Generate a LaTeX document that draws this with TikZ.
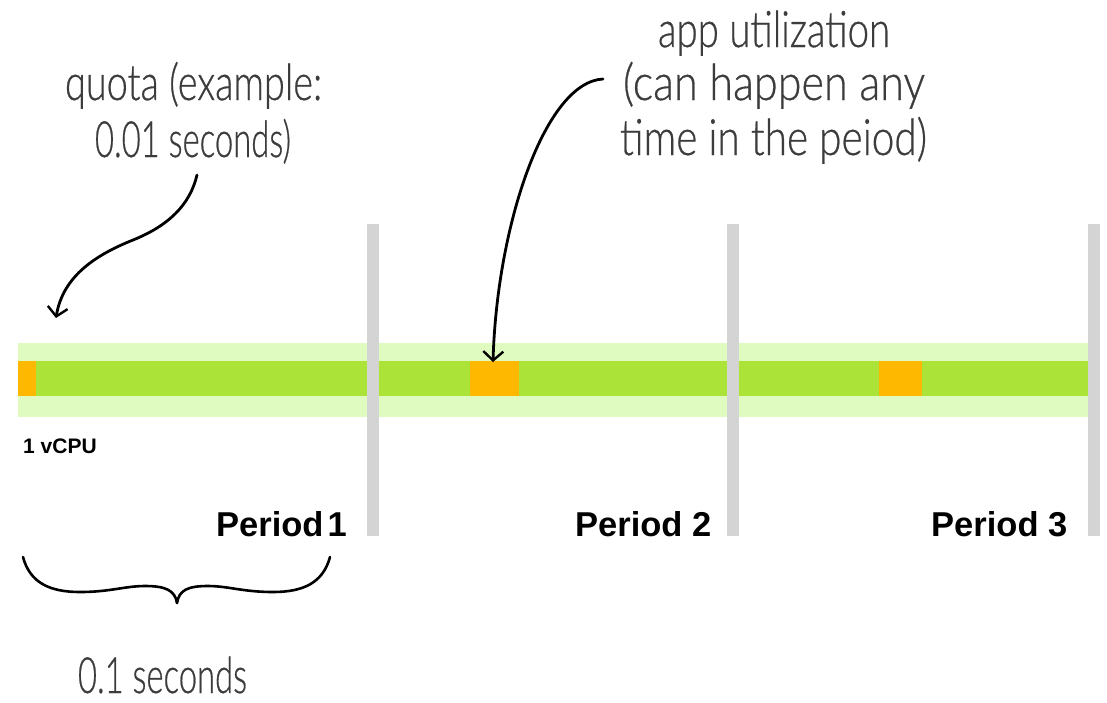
\documentclass[tikz,border=0pt]{standalone}
\usepackage{fontspec}
\usetikzlibrary{arrows.meta}
\setmainfont{Liberation Sans}
\newfontfamily\handfont[FakeBold=0.6]{Lato Light}
\definecolor{lightband}{HTML}{E0FBC0}
\definecolor{darkband}{HTML}{ABE338}
\definecolor{usage}{HTML}{FFB800}
\definecolor{divider}{HTML}{D4D4D4}
\definecolor{ink}{HTML}{3C3C3C}
\newcommand{\handtext}[2]{\resizebox{#1pt}{\height}{\fontsize{50}{54}\handfont #2}}
\tikzset{
  hand/.style={anchor=base west,inner sep=0pt,outer sep=0pt,text=ink},
  periodlabel/.style={anchor=base west,inner sep=0pt,font=\fontsize{34.5}{38}\selectfont\bfseries},
  pointer/.style={line width=2.8pt,line cap=round,-{Straight Barb[length=9pt,width=20pt,line width=2.4pt]}},
  bracepath/.style={line width=2.6pt,line cap=round,line join=round}
}
\begin{document}
\begin{tikzpicture}[x=1pt,y=-1pt]
\useasboundingbox (0,0) rectangle (1107,702);
% bands
\fill[lightband] (18,343) rectangle (1088,417);
\fill[darkband] (18,361) rectangle (1088,396);
\fill[usage] (18,361) rectangle (36,396);
\fill[usage] (470,361) rectangle (519,396);
\fill[usage] (879,361) rectangle (922,396);
\fill[divider] (367,224) rectangle (379,536);
\fill[divider] (727,224) rectangle (739,536);
\fill[divider] (1088,224) rectangle (1100,536);
% handwriting
\node[hand] (q1) at (65,100) {\handtext{257}{quota (example:}};
\node[hand] (q2) at (95,157) {\handtext{196}{0.01 seconds)}};
\node[hand] (a1) at (658,47) {\handtext{232}{app utilization}};
\node[hand] (a2) at (623,100) {\handtext{302}{(can happen any}};
\node[hand] (a3) at (620,155) {\handtext{307}{time in the peiod)}};
\node[hand] (s1) at (78,693) {\handtext{169}{0.1 seconds}};
% bold labels
\node[anchor=base west,inner sep=0pt,font=\fontsize{21}{24}\selectfont\bfseries] (cpu) at (23,453) {1 vCPU};
\node[periodlabel] (p1) at (216,536) {Period\hspace{0.12em}1};
\node[periodlabel] (p2) at (575,536) {Period 2};
\node[periodlabel] (p3) at (931,536) {Period 3};
% connectors
\coordinate (quotastart) at (197,175);
\coordinate (quotaend) at (56,318);
\coordinate (appstart) at (603,79);
\coordinate (append) at (493,362);
\draw[pointer] (quotastart) .. controls (190,205) and (168,226) .. (133,240)
  .. controls (98,254) and (63,275) .. (quotaend);
\draw[pointer] (appstart) .. controls (545,82) and (497,225) .. (append);
% brace
\coordinate (braceleft) at (23,557);
\coordinate (braceright) at (330,557);
\coordinate (bracetip) at (177,603);
\draw[bracepath] (braceleft) .. controls (30,583) and (50,592) .. (80,592)
  .. controls (110,592) and (125,586) .. (145,586)
  .. controls (165,586) and (175,590) .. (bracetip);
\draw[bracepath] (braceright) .. controls (323,583) and (303,592) .. (273,592)
  .. controls (243,592) and (228,586) .. (208,586)
  .. controls (188,586) and (179,590) .. (bracetip);
\end{tikzpicture}
\end{document}
